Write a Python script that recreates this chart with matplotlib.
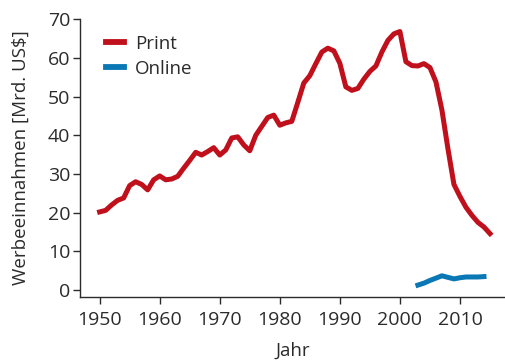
import matplotlib
matplotlib.use("Agg")
import matplotlib.pyplot as plt

plt.rcParams['font.family'] = ['Open Sans', 'DejaVu Sans']

# Werbeeinnahmen der US-Zeitungen (Mrd. US$)
print_years = list(range(1950, 2016))
print_values = [
    20.2, 20.6, 22.0, 23.2, 23.8, 27.0, 28.0, 27.3, 25.9, 28.5,
    29.5, 28.5, 28.7, 29.4, 31.5, 33.5, 35.6, 34.9, 35.8, 36.8,
    34.9, 36.2, 39.3, 39.6, 37.5, 36.0, 40.0, 42.3, 44.6, 45.2,
    42.6, 43.2, 43.6, 48.5, 53.5, 55.4, 58.5, 61.5, 62.5, 61.8,
    58.6, 52.5, 51.6, 52.1, 54.5, 56.5, 57.9, 61.5, 64.5, 66.2,
    66.8, 59.0, 58.0, 57.9, 58.5, 57.5, 53.8, 46.5, 36.5, 27.3,
    24.2, 21.4, 19.3, 17.5, 16.3, 14.6,
]
online_years = list(range(2003, 2015))
online_values = [1.3, 1.8, 2.5, 3.1, 3.7, 3.3, 2.9, 3.2, 3.4, 3.4, 3.4, 3.5]

x_ticks = [1950, 1960, 1970, 1980, 1990, 2000, 2010]
y_ticks = [0, 10, 20, 30, 40, 50, 60, 70]

text_color = '#2b2b2b'
red = '#c0101c'
blue = '#0a78b5'

fig = plt.figure(figsize=(5.05, 3.61), dpi=100)
ax = fig.add_axes([0.158, 0.177, 0.842, 0.77])

ax.plot(print_years, print_values, color=red, lw=3.6, label='Print',
        solid_joinstyle='round')
ax.plot(online_years, online_values, color=blue, lw=3.6, label='Online',
        solid_joinstyle='round')

ax.set_xlim(1946.7, 2017.5)
ax.set_ylim(-1.8, 70)
ax.set_xticks(x_ticks)
ax.set_yticks(y_ticks)

for side in ('top', 'right'):
    ax.spines[side].set_visible(False)
for side in ('left', 'bottom'):
    ax.spines[side].set_color(text_color)
    ax.spines[side].set_linewidth(1.0)

ax.tick_params(axis='both', colors=text_color, labelsize=14,
               length=5, width=1.0, direction='out')
ax.tick_params(axis='x', pad=5)
ax.tick_params(axis='y', pad=2)

ax.set_xlabel('Jahr', fontsize=13.5, color=text_color, labelpad=9)
ax.set_ylabel('Werbeeinnahmen [Mrd. US$]', fontsize=13.5, color=text_color,
              labelpad=13)

leg = ax.legend(loc='upper left', bbox_to_anchor=(0.03, 0.99), frameon=False,
                fontsize=13.5, handlelength=1.0, handletextpad=0.55,
                labelspacing=0.35, borderaxespad=0.3)
for t in leg.get_texts():
    t.set_color(text_color)
for h in leg.legend_handles:
    h.set_linewidth(4.2)

fig.savefig('out.png', dpi=100)
